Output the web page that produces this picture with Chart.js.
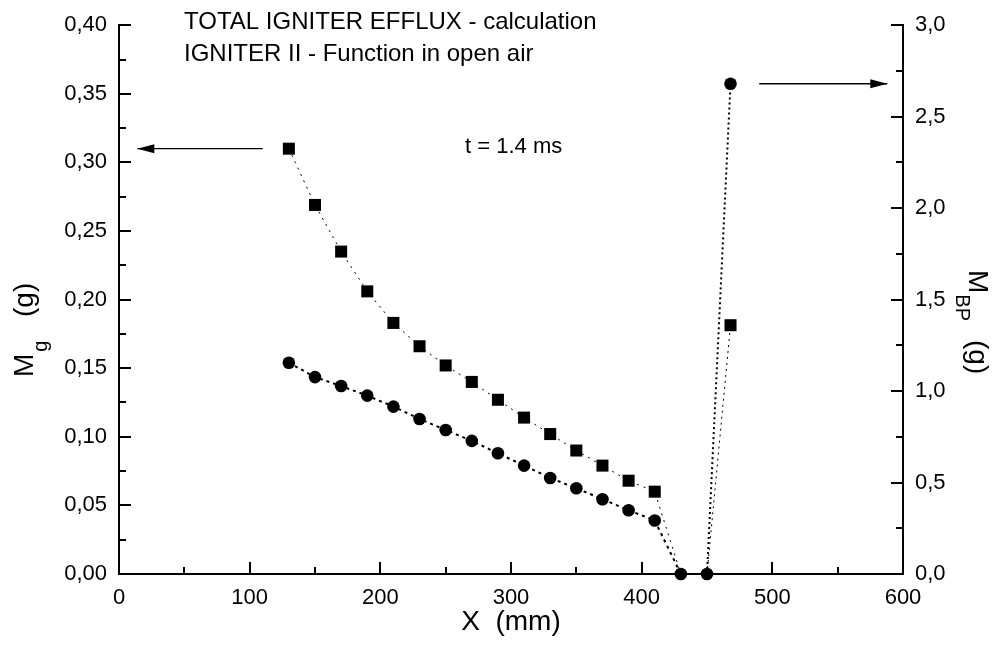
<!DOCTYPE html>
<html>
<head>
<meta charset="utf-8">
<script src="https://cdn.jsdelivr.net/npm/chart.js@4.4.1/dist/chart.umd.min.js"></script>
<style>
  html, body { margin: 0; padding: 0; background: #fff; }
  #wrap { width: 996px; height: 654px; position: relative; }
</style>
</head>
<body>
<div id="wrap"><canvas id="chart" width="996" height="654"></canvas></div>
<script>
// x positions (mm)
const xMm = [130, 150, 170, 190, 210, 230, 250, 270, 290, 310, 330, 350, 370, 390, 410, 430, 450];
// M_g (g), squares, left axis
const mgSquares = [0.310, 0.269, 0.235, 0.206, 0.183, 0.166, 0.152, 0.140, 0.127, 0.114, 0.102, 0.090, 0.079, 0.068, 0.060, 0, 0];
// M_g (g), circles, left axis
const mgCircles = [0.154, 0.1435, 0.137, 0.130, 0.122, 0.113, 0.105, 0.097, 0.088, 0.079, 0.070, 0.0625, 0.0545, 0.0465, 0.039, 0, 0];
// M_BP (g), right axis
const xBP = [450, 468];
const bpSquares = [0, 1.36];
const bpCircles = [0, 2.68];

const xTicks = [0, 100, 200, 300, 400, 500, 600];
const leftTicks = [0, 0.05, 0.10, 0.15, 0.20, 0.25, 0.30, 0.35, 0.40];
const rightTicks = [0, 0.5, 1.0, 1.5, 2.0, 2.5, 3.0];

const titleLines = ["TOTAL IGNITER EFFLUX - calculation", "IGNITER II - Function in open air"];
const timeNote = "t = 1.4 ms";

const FONT = "'Liberation Sans', Arial, sans-serif";

function pts(xs, ys){ return xs.map((x, i) => ({x, y: ys[i]})); }

// inward ticks, arrows, texts, axis titles
const decor = {
  id: 'decor',
  afterDraw(chart){
    const ctx = chart.ctx;
    const sx = chart.scales.x, sl = chart.scales.yL, sr = chart.scales.yR;
    const a = chart.chartArea;
    ctx.save();
    ctx.strokeStyle = '#000';
    ctx.fillStyle = '#000';
    ctx.lineWidth = 2;
    ctx.beginPath();
    for(let v = 0; v <= 600; v += 50){
      const p = Math.round(sx.getPixelForValue(v));
      const len = v % 100 === 0 ? 12 : 7;
      ctx.moveTo(p, a.bottom); ctx.lineTo(p, a.bottom - len);
    }
    for(let i = 0; i <= 16; i++){
      const p = Math.round(sl.getPixelForValue(i * 0.025));
      const len = i % 2 === 0 ? 12 : 7;
      ctx.moveTo(a.left, p); ctx.lineTo(a.left + len, p);
    }
    for(let i = 0; i <= 12; i++){
      const p = Math.round(sr.getPixelForValue(i * 0.25));
      const len = i % 2 === 0 ? 12 : 7;
      ctx.moveTo(a.right, p); ctx.lineTo(a.right - len, p);
    }
    ctx.stroke();

    // arrows
    function arrow(x1, x2, y){
      ctx.lineWidth = 1.3;
      ctx.beginPath(); ctx.moveTo(x1, y); ctx.lineTo(x2, y); ctx.stroke();
      const d = x2 > x1 ? 1 : -1;
      ctx.beginPath();
      ctx.moveTo(x2, y);
      ctx.lineTo(x2 - d * 17, y - 4.5);
      ctx.lineTo(x2 - d * 17, y + 4.5);
      ctx.closePath(); ctx.fill();
    }
    arrow(sx.getPixelForValue(110), sx.getPixelForValue(14), sl.getPixelForValue(0.31));
    arrow(sx.getPixelForValue(490), sx.getPixelForValue(588), sr.getPixelForValue(2.68));

    // texts
    ctx.font = '24px ' + FONT;
    ctx.textBaseline = 'alphabetic';
    ctx.textAlign = 'left';
    ctx.fillText(titleLines[0], 184, 29);
    ctx.fillText(titleLines[1], 184, 61);
    ctx.font = '22px ' + FONT;
    ctx.fillText(timeNote, 465, 153);

    // x title
    ctx.font = '28px ' + FONT;
    ctx.textAlign = 'center';
    ctx.fillText('X  (mm)', (a.left + a.right) / 2, 630);

    // left title: M_g (g), reading upward
    ctx.save();
    ctx.translate(33, 377);
    ctx.rotate(-Math.PI / 2);
    ctx.textAlign = 'left';
    ctx.font = '28px ' + FONT;
    let w = ctx.measureText('M').width;
    ctx.fillText('M', 0, 0);
    ctx.font = '20px ' + FONT;
    ctx.fillText('g', w + 2, 14);
    ctx.font = '28px ' + FONT;
    ctx.fillText('(g)', 60, 0);
    ctx.restore();

    // right title: M_BP (g), reading downward
    ctx.save();
    ctx.translate(969, 270);
    ctx.rotate(Math.PI / 2);
    ctx.textAlign = 'left';
    ctx.font = '28px ' + FONT;
    w = ctx.measureText('M').width;
    ctx.fillText('M', 0, 0);
    ctx.font = '20px ' + FONT;
    ctx.fillText('BP', w + 1, 13);
    ctx.font = '28px ' + FONT;
    ctx.fillText('(g)', 70, 0);
    ctx.restore();

    ctx.restore();
  }
};

const fmt = (d) => (v) => v.toFixed(d).replace('.', ',');

new Chart(document.getElementById('chart'), {
  type: 'scatter',
  data: {
    datasets: [
      {
        data: pts(xMm, mgSquares), yAxisID: 'yL', showLine: true,
        borderColor: '#000', borderWidth: 1, borderDash: [2, 5],
        pointStyle: 'rect', pointRadius: xMm.map(x => x >= 430 ? 0 : 8.5),
        backgroundColor: '#000', pointBorderWidth: 0, clip: false
      },
      {
        data: pts(xMm, mgCircles), yAxisID: 'yL', showLine: true,
        borderColor: '#000', borderWidth: 2, borderDash: [3, 4],
        pointStyle: 'circle', pointRadius: 6.3,
        backgroundColor: '#000', pointBorderWidth: 0, clip: false
      },
      {
        data: pts(xBP, bpSquares), yAxisID: 'yR', showLine: true,
        borderColor: '#000', borderWidth: 1, borderDash: [2, 4],
        pointStyle: 'rect', pointRadius: [0, 8.5],
        backgroundColor: '#000', pointBorderWidth: 0, clip: false
      },
      {
        data: pts(xBP, bpCircles), yAxisID: 'yR', showLine: true,
        borderColor: '#000', borderWidth: 2, borderDash: [2, 3],
        pointStyle: 'circle', pointRadius: [0, 6.3],
        backgroundColor: '#000', pointBorderWidth: 0, clip: false
      }
    ]
  },
  options: {
    responsive: false,
    animation: false,
    layout: { padding: { top: 24, left: 0, right: 0, bottom: 0 } },
    plugins: { legend: { display: false }, tooltip: { enabled: false } },
    scales: {
      x: {
        type: 'linear', min: 0, max: 600,
        afterFit: s => { s.height = 80; },
        afterBuildTicks: s => { s.ticks = xTicks.map(v => ({value: v})); },
        grid: { display: false, drawTicks: false },
        border: { display: true, width: 2, color: '#000' },
        ticks: { color: '#000', font: { size: 22, family: FONT }, padding: 11, maxRotation: 0 }
      },
      yL: {
        type: 'linear', position: 'left', min: 0, max: 0.4,
        afterFit: s => { s.width = 119; },
        afterBuildTicks: s => { s.ticks = leftTicks.map(v => ({value: v})); },
        grid: { display: false, drawTicks: false },
        border: { display: true, width: 2, color: '#000' },
        ticks: { color: '#000', font: { size: 22, family: FONT }, padding: 12, callback: fmt(2) }
      },
      yR: {
        type: 'linear', position: 'right', min: 0, max: 3.0,
        afterFit: s => { s.width = 93; },
        afterBuildTicks: s => { s.ticks = rightTicks.map(v => ({value: v})); },
        grid: { display: false, drawTicks: false },
        border: { display: true, width: 2, color: '#000' },
        ticks: { color: '#000', font: { size: 22, family: FONT }, padding: 12, callback: fmt(1) }
      }
    }
  },
  plugins: [decor]
});
</script>
</body>
</html>
